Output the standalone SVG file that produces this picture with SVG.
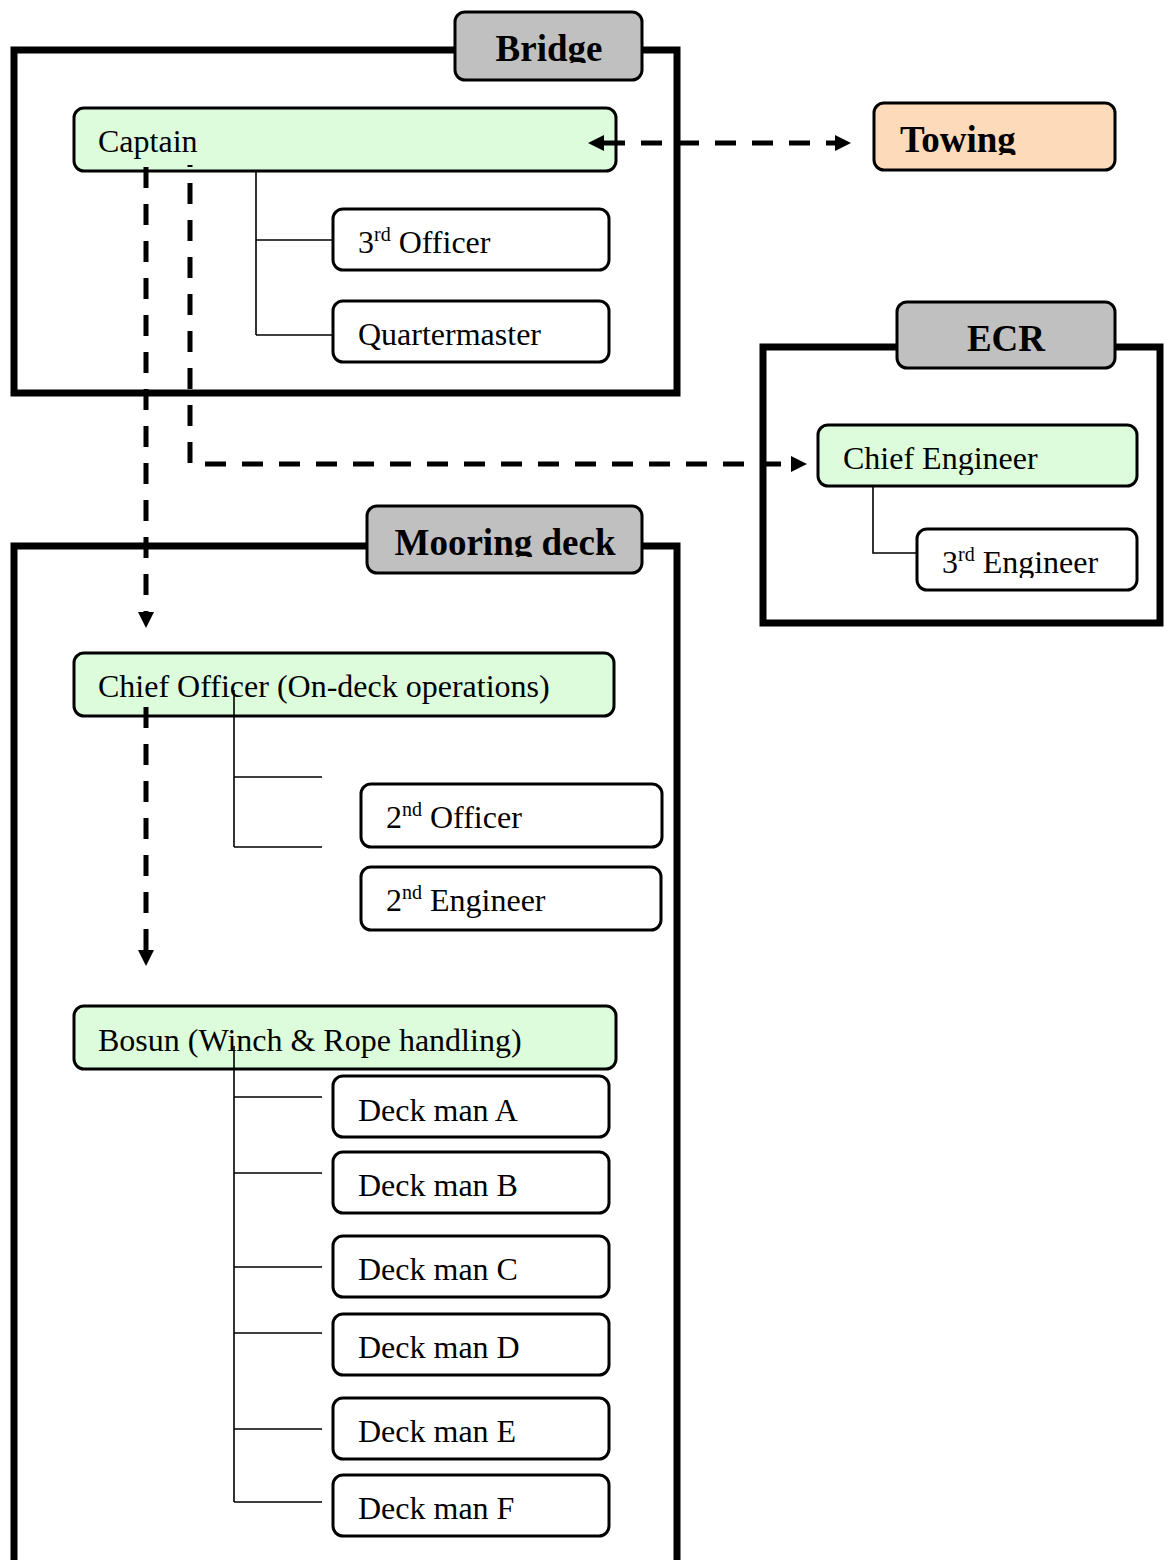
<svg xmlns="http://www.w3.org/2000/svg" width="1164" height="1560" viewBox="0 0 1164 1560">
<style>
.container{fill:none;stroke:#000;stroke-width:7}
.label{fill:#C0C0C0;stroke:#000;stroke-width:3}
.node{fill:#fff;stroke:#000;stroke-width:3}
.green{fill:#DCFCDC;stroke:#000;stroke-width:3}
.peach{fill:#FCDABA;stroke:#000;stroke-width:3}
.t{font-family:"Liberation Serif","Times New Roman",serif;font-size:32px;fill:#000}
.b{font-family:"Liberation Serif","Times New Roman",serif;font-size:37px;font-weight:bold;fill:#000}
.sup{font-size:20px}
.tree{fill:none;stroke:#000;stroke-width:1.6}
.dash{fill:none;stroke:#000;stroke-width:5;stroke-dasharray:21 16}
</style>
<defs>
<marker id="arr" markerUnits="userSpaceOnUse" markerWidth="17" markerHeight="16" refX="0" refY="8" orient="auto-start-reverse">
<path d="M0,0 L16,8 L0,16 z" fill="#000"/>
</marker>
<clipPath id="cBridge"><rect x="455" y="12" width="187" height="51"/></clipPath>
<clipPath id="cTowing"><rect x="874" y="103" width="241" height="52"/></clipPath>
<clipPath id="cECR"><rect x="897" y="302" width="218" height="52"/></clipPath>
<clipPath id="cMooring"><rect x="367" y="506" width="275" height="51"/></clipPath>
<clipPath id="cChiefEng"><rect x="818" y="425" width="319" height="50"/></clipPath>
<clipPath id="c3rdEng"><rect x="917" y="529" width="220" height="49"/></clipPath>
</defs>

<g id="containers">
<rect id="bridge-area" class="container" x="14" y="50" width="663" height="343"/>
<rect id="ecr-area" class="container" x="763" y="347" width="397" height="276"/>
<rect id="mooring-area" class="container" x="14" y="546" width="663" height="1040"/>
</g>

<g id="bridge-label">
<rect class="label" x="455" y="12" width="187" height="68" rx="10"/>
<text class="b" x="549" y="61" text-anchor="middle" clip-path="url(#cBridge)">Bridge</text>
</g>
<g id="ecr-label">
<rect class="label" x="897" y="302" width="218" height="66" rx="10"/>
<text class="b" x="1006" y="351" text-anchor="middle" clip-path="url(#cECR)">ECR</text>
</g>
<g id="mooring-label">
<rect class="label" x="367" y="506" width="275" height="67" rx="10"/>
<text class="b" x="505" y="555" text-anchor="middle" clip-path="url(#cMooring)">Mooring deck</text>
</g>

<g id="towing">
<rect class="peach" x="874" y="103" width="241" height="67" rx="10"/>
<text class="b" x="900" y="152" clip-path="url(#cTowing)">Towing</text>
</g>

<g id="captain">
<rect class="green" x="74" y="108" width="542" height="63" rx="10"/>
<text class="t" x="98" y="152">Captain</text>
</g>
<g id="third-officer">
<rect class="node" x="333" y="209" width="276" height="61" rx="10"/>
<text class="t" x="358" y="253">3<tspan class="sup" dy="-12">rd</tspan><tspan dy="12"> Officer</tspan></text>
</g>
<g id="quartermaster">
<rect class="node" x="333" y="301" width="276" height="61" rx="10"/>
<text class="t" x="358" y="345">Quartermaster</text>
</g>

<g id="chief-engineer">
<rect class="green" x="818" y="425" width="319" height="61" rx="10"/>
<text class="t" x="843" y="469" clip-path="url(#cChiefEng)">Chief Engineer</text>
</g>
<g id="third-engineer">
<rect class="node" x="917" y="529" width="220" height="61" rx="10"/>
<text class="t" x="942" y="573" clip-path="url(#c3rdEng)">3<tspan class="sup" dy="-12">rd</tspan><tspan dy="12"> Engineer</tspan></text>
</g>

<g id="chief-officer">
<rect class="green" x="74" y="653" width="540" height="63" rx="10"/>
<text class="t" x="98" y="697">Chief Officer (On-deck operations)</text>
</g>
<g id="second-officer">
<rect class="node" x="361" y="784" width="301" height="63" rx="10"/>
<text class="t" x="386" y="828">2<tspan class="sup" dy="-12">nd</tspan><tspan dy="12"> Officer</tspan></text>
</g>
<g id="second-engineer">
<rect class="node" x="361" y="867" width="300" height="63" rx="10"/>
<text class="t" x="386" y="911">2<tspan class="sup" dy="-12">nd</tspan><tspan dy="12"> Engineer</tspan></text>
</g>

<g id="bosun">
<rect class="green" x="74" y="1006" width="542" height="63" rx="10"/>
<text class="t" x="98" y="1051">Bosun (Winch &amp; Rope handling)</text>
</g>
<g id="deckman-a">
<rect class="node" x="333" y="1076" width="276" height="61" rx="10"/>
<text class="t" x="358" y="1121">Deck man A</text>
</g>
<g id="deckman-b">
<rect class="node" x="333" y="1152" width="276" height="61" rx="10"/>
<text class="t" x="358" y="1196">Deck man B</text>
</g>
<g id="deckman-c">
<rect class="node" x="333" y="1236" width="276" height="61" rx="10"/>
<text class="t" x="358" y="1280">Deck man C</text>
</g>
<g id="deckman-d">
<rect class="node" x="333" y="1314" width="276" height="61" rx="10"/>
<text class="t" x="358" y="1358">Deck man D</text>
</g>
<g id="deckman-e">
<rect class="node" x="333" y="1398" width="276" height="61" rx="10"/>
<text class="t" x="358" y="1442">Deck man E</text>
</g>
<g id="deckman-f">
<rect class="node" x="333" y="1475" width="276" height="61" rx="10"/>
<text class="t" x="358" y="1519">Deck man F</text>
</g>

<g id="connectors">
<path class="tree" d="M256,171 V335 M256,240 H333 M256,335 H333"/>
<path class="tree" d="M873,486 V553 H917"/>
<path class="tree" d="M234,690 V847 M234,777 H322 M234,847 H322"/>
<path class="tree" d="M234,1046 V1502 M234,1097 H322 M234,1173 H322 M234,1267 H322 M234,1333 H322 M234,1429 H322 M234,1502 H322"/>
<path class="dash" d="M146,167 V612" marker-end="url(#arr)"/>
<path class="dash" d="M146,707 V950" marker-end="url(#arr)"/>
<path class="dash" d="M190,165 V464 H791" style="stroke-dashoffset:19" marker-end="url(#arr)"/>
<path class="dash" d="M604,143 H835" marker-start="url(#arr)" marker-end="url(#arr)"/>
</g>
</svg>
